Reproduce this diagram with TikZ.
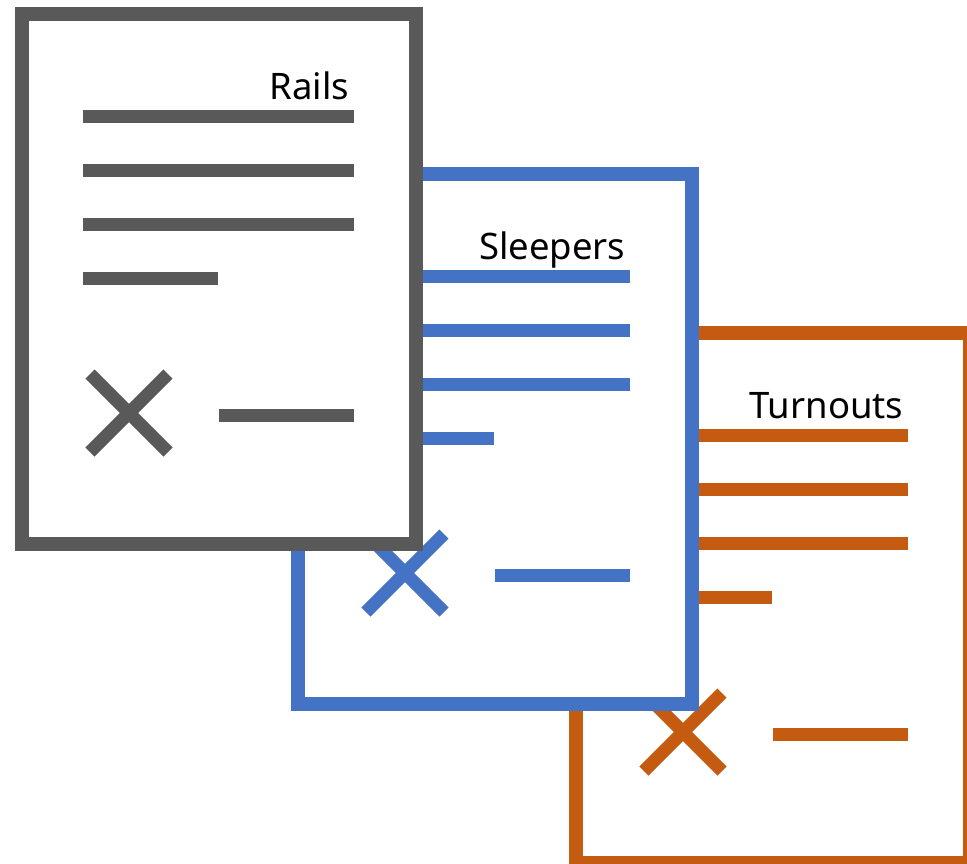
\documentclass[tikz,border=0pt]{standalone}
\usepackage{fontspec}
\setmainfont{Noto Sans}
\definecolor{docgray}{HTML}{595959}
\definecolor{docblue}{HTML}{4472C4}
\definecolor{docorange}{HTML}{C55A11}
\tikzset{
  sheet/.style={line width=13.5pt, fill=white, line join=miter},
  bar/.style={line width=13pt, line cap=butt},
  lbl/.style={font=\fontsize{36.5}{40}\selectfont, text=black, inner sep=0pt, anchor=base east}
}
% #1 name, #2 left, #3 top, #4 colour, #5 label
\newcommand\docsheet[5]{%
  \begin{scope}[shift={(#2,#3)}]
    \draw[sheet, draw=#4] (0,0) rectangle (394,530);
    \foreach \yy in {102,156,210} \draw[bar, draw=#4] (61,\yy) -- (332,\yy);
    \draw[bar, draw=#4] (61,264) -- (196,264);
    \draw[bar, draw=#4] (68,360) -- (146,438);
    \draw[bar, draw=#4] (68,438) -- (146,360);
    \draw[bar, draw=#4] (197,401) -- (332,401);
    \node[lbl] (#1) at (327.5,85) {#5};
  \end{scope}}
\begin{document}
\begin{tikzpicture}[x=1pt, y=-1pt]
\useasboundingbox (0,0) rectangle (967,863);
\clip (0,0) rectangle (967,863);
\docsheet{turnouts}{576}{333}{docorange}{Turnouts}
\docsheet{sleepers}{298}{174}{docblue}{Sleepers}
\docsheet{rails}{22}{14}{docgray}{Rails}
\end{tikzpicture}
\end{document}
